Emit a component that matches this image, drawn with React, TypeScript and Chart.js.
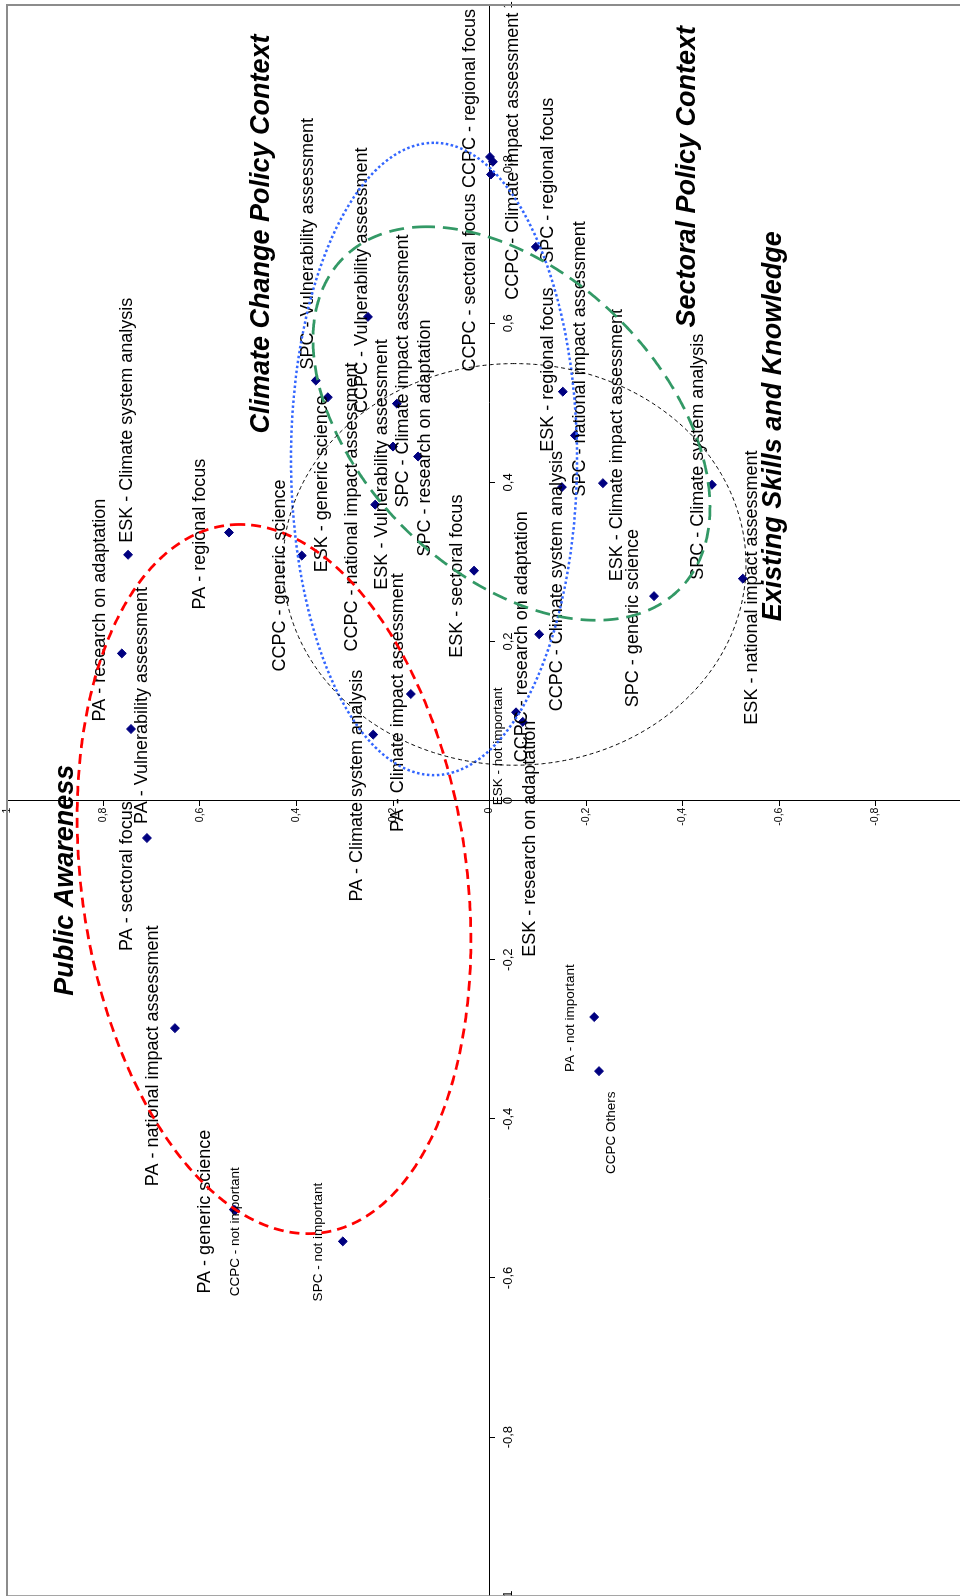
import React, { useEffect, useRef } from "react";
import { Chart, registerables } from "chart.js";

Chart.register(...registerables);

const FONT = "Arial, 'Liberation Sans', Helvetica, sans-serif";

// ---------------- data ----------------
const pointLabels = [
  "SPC - Vulnerability assessment",
  "ESK - generic science",
  "CCPC - Vulnerability assessment",
  "CCPC - regional focus",
  "CCPC - Climate impact assessment",
  "CCPC - sectoral focus",
  "SPC - regional focus",
  "ESK - regional focus",
  "SPC - national impact assessment",
  "CCPC - Climate system analysis",
  "ESK - Climate impact assessment",
  "SPC - Climate system analysis",
  "SPC - generic science",
  "ESK - national impact assessment",
  "CCPC - research on adaptation",
  "ESK - not important",
  "ESK - research on adaptation",
  "ESK - sectoral focus",
  "SPC - Climate impact assessment",
  "SPC - research on adaptation",
  "ESK - Vulnerability assessment",
  "CCPC - national impact assessment",
  "PA - Climate impact assessment",
  "PA - Climate system analysis",
  "CCPC - generic science",
  "PA - regional focus",
  "ESK - Climate system analysis",
  "PA - research on adaptation",
  "PA - Vulnerability assessment",
  "PA - sectoral focus",
  "PA - national impact assessment",
  "PA - generic science",
  "CCPC - not important",
  "SPC - not important",
  "PA - not important",
  "CCPC Others",
];

const xValues = [
  0.528, 0.507, 0.608, 0.809, 0.803, 0.787, 0.696, 0.514, 0.459, 0.394,
  0.399, 0.397, 0.257, 0.279, 0.209, 0.111, 0.099, 0.289, 0.445, 0.4325,
  0.372, 0.499, 0.134, 0.083, 0.308, 0.337, 0.309, 0.185, 0.09, -0.047,
  -0.286, -0.514, -0.515, -0.554, -0.272, -0.34,
];

const yValues = [
  0.36, 0.335, 0.252, -0.001, -0.007, -0.003, -0.096, -0.152, -0.177, -0.15,
  -0.235, -0.461, -0.341, -0.525, -0.103, -0.055, -0.069, 0.032, 0.2, 0.148,
  0.237, 0.192, 0.163, 0.241, 0.389, 0.54, 0.749, 0.762, 0.743, 0.71,
  0.652, 0.53, 0.527, 0.304, -0.217, -0.227,
];

// style: small label font
const smallLabel = [
  0, 0, 0, 0, 0, 0, 0, 0, 0, 0,
  0, 0, 0, 0, 0, 1, 0, 0, 0, 0,
  0, 0, 0, 0, 0, 0, 0, 0, 0, 0,
  0, 0, 1, 1, 1, 1,
];

// label placement offsets in pixels relative to the point [along text, across text]
const labelOffsets: [number, number][] = [
  [11, -8], [-175, -6], [-96, -6], [-31, -20], [-138, 20], [-197, -21],
  [-16, 12], [-60, -15], [-61, 5], [-224, -5], [-98, 14], [-95, -14],
  [-111, -21], [-146, 9], [-128, -17], [-93, -18], [-235, 7], [-87, -17],
  [-61, 10], [-100, 7], [-85, 7], [-248, -45], [-138, -13], [-167, -16],
  [-116, -22], [-77, -29], [12, -1], [-68, -22], [-95, 11], [-113, -20],
  [-158, -22], [-84, -29], [-86, 0], [-60, -25], [-55, -24], [-103, 12],
];

const tickValues = [-1, -0.8, -0.6, -0.4, -0.2, 0, 0.2, 0.4, 0.6, 0.8, 1];
const xTickLabels = ["-1", "-0,8", "-0,6", "-0,4", "-0,2", "0", "0,2", "0,4", "0,6", "0,8", "1"];
const yTickLabels = ["-1", "-0,8", "-0,6", "-0,4", "-0,2", "0", "0,2", "0,4", "0,6", "0,8", "1"];

const groupTitles = [
  "Climate Change Policy Context",
  "Sectoral Policy Context",
  "Existing Skills and Knowledge",
  "Public Awareness",
];
const titleX = [0.4614, 0.5945, 0.2254, -0.2454];
const titleY = [0.4715, -0.4114, -0.5896, 0.8777];

// group ellipses: Public Awareness, CCPC, SPC, ESK
const ellipseCx = [-0.0986, 0.4294, 0.474, 0.2969];
const ellipseCy = [0.4466, 0.115, -0.0456, -0.0518];
const ellipseRx = [0.4457, 0.3974, 0.2473, 0.2524];
const ellipseRy = [0.408, 0.2964, 0.4114, 0.4798];
const ellipsePhase = [1.397, 1.5708, 1.131, 1.5708];
const ellipseColors = ["#FF0000", "#3366FF", "#339966", "#000000"];
const ellipseWidths = [2.75, 2.5, 2.75, 1];
const ellipseDashes = [[10, 6], [2.5, 2.5], [15, 8], [4, 3]];

// ---------------- layout ----------------
const CW = 1613;
const CH = 985;
const TICK_LEN = 5;

const overlayPlugin = {
  id: "overlay",
  beforeDatasetsDraw(chart: any) {
    // y-axis tick labels, placed on the outer side of the tick marks
    const ctx = chart.ctx as CanvasRenderingContext2D;
    const xs = chart.scales.x;
    const ys = chart.scales.y;
    const x0 = xs.getPixelForValue(0) - TICK_LEN - 2;
    ctx.save();
    ctx.fillStyle = "#000";
    ctx.textAlign = "right";
    ctx.textBaseline = "middle";
    ctx.font = `10.5px ${FONT}`;
    tickValues.forEach((v, i) => {
      ctx.fillText(yTickLabels[i], x0, ys.getPixelForValue(v));
    });
    ctx.restore();
  },
  afterDatasetsDraw(chart: any) {
    const ctx = chart.ctx as CanvasRenderingContext2D;
    const meta = chart.getDatasetMeta(0);
    ctx.save();
    ctx.fillStyle = "#000";
    ctx.textAlign = "left";
    ctx.textBaseline = "middle";
    meta.data.forEach((el: any, i: number) => {
      const [du, dv] = labelOffsets[i];
      ctx.font = `${smallLabel[i] ? 13.5 : 18}px ${FONT}`;
      ctx.fillText(pointLabels[i], el.x + du, el.y + dv);
    });
    ctx.restore();
  },
  afterDraw(chart: any) {
    const ctx = chart.ctx as CanvasRenderingContext2D;
    const { chartArea, scales } = chart;
    const xs = scales.x;
    const ys = scales.y;
    ctx.save();
    for (let k = 0; k < ellipseCx.length; k++) {
      ctx.beginPath();
      const N = 720;
      for (let j = 0; j <= N; j++) {
        const t = (j / N) * Math.PI * 2;
        const xv = ellipseCx[k] + ellipseRx[k] * Math.cos(t);
        const yv = ellipseCy[k] + ellipseRy[k] * Math.cos(t - ellipsePhase[k]);
        const px = xs.getPixelForValue(xv);
        const py = ys.getPixelForValue(yv);
        if (j === 0) ctx.moveTo(px, py);
        else ctx.lineTo(px, py);
      }
      ctx.strokeStyle = ellipseColors[k];
      ctx.lineWidth = ellipseWidths[k];
      ctx.setLineDash(ellipseDashes[k]);
      ctx.stroke();
    }
    ctx.setLineDash([]);
    ctx.fillStyle = "#000";
    ctx.textAlign = "left";
    ctx.textBaseline = "middle";
    ctx.font = `italic bold 27px ${FONT}`;
    groupTitles.forEach((t, i) => {
      ctx.fillText(t, xs.getPixelForValue(titleX[i]), ys.getPixelForValue(titleY[i]));
    });
    ctx.strokeStyle = "#8c8c8c";
    ctx.lineWidth = 2;
    ctx.strokeRect(
      chartArea.left,
      chartArea.top,
      chartArea.right - chartArea.left,
      chartArea.bottom - chartArea.top
    );
    ctx.restore();
  },
};

export default function App() {
  const ref = useRef<HTMLCanvasElement>(null);

  useEffect(() => {
    if (!ref.current) return;
    Chart.defaults.font.family = FONT;
    const chart = new Chart(ref.current, {
      type: "scatter",
      data: {
        datasets: [
          {
            label: "items",
            data: xValues.map((x, i) => ({ x, y: yValues[i] })),
            pointStyle: "rectRot",
            pointRadius: 4.5,
            pointHoverRadius: 4.5,
            backgroundColor: "#000080",
            borderColor: "#000080",
            borderWidth: 1,
          },
        ],
      },
      options: {
        animation: false,
        responsive: false,
        devicePixelRatio: 1,
        layout: { padding: 10 },
        events: [],
        plugins: {
          legend: { display: false },
          tooltip: { enabled: false },
          title: { display: false },
        },
        scales: {
          x: {
            type: "linear",
            min: -1,
            max: 1,
            position: { y: 0 } as any,
            afterBuildTicks: (s: any) => {
              s.ticks = tickValues.map((v) => ({ value: v }));
            },
            ticks: {
              autoSkip: false,
              maxRotation: 0,
              minRotation: 0,
              padding: 6,
              color: "#000",
              font: { size: 13 },
              callback: (_v: any, i: number) => xTickLabels[i],
            },
            grid: {
              drawOnChartArea: false,
              drawTicks: true,
              tickLength: TICK_LEN,
              color: "#000",
              lineWidth: 1,
            },
            border: { display: true, color: "#000", width: 1 },
          },
          y: {
            type: "linear",
            min: -1,
            max: 1,
            position: { x: 0 } as any,
            afterBuildTicks: (s: any) => {
              s.ticks = tickValues.map((v) => ({ value: v }));
            },
            ticks: {
              display: false,
              autoSkip: false,
              font: { size: 10.5 },
              callback: (_v: any, i: number) => yTickLabels[i],
            },
            grid: {
              drawOnChartArea: false,
              drawTicks: true,
              tickLength: TICK_LEN,
              color: "#000",
              lineWidth: 1,
            },
            border: { display: true, color: "#000", width: 1 },
          },
        },
      },
      plugins: [overlayPlugin],
    });
    return () => chart.destroy();
  }, []);

  return (
    <div
      style={{
        position: "absolute",
        left: 0,
        top: 0,
        width: 960,
        height: 1596,
        overflow: "hidden",
        background: "#fff",
      }}
    >
      <div
        style={{
          position: "absolute",
          left: 0,
          top: 0,
          width: CW,
          height: CH,
          transformOrigin: "0 0",
          transform: "translate(-3px, 1608px) rotate(-90deg)",
        }}
      >
        <canvas ref={ref} width={CW} height={CH} style={{ display: "block", width: CW, height: CH }} />
      </div>
    </div>
  );
}
